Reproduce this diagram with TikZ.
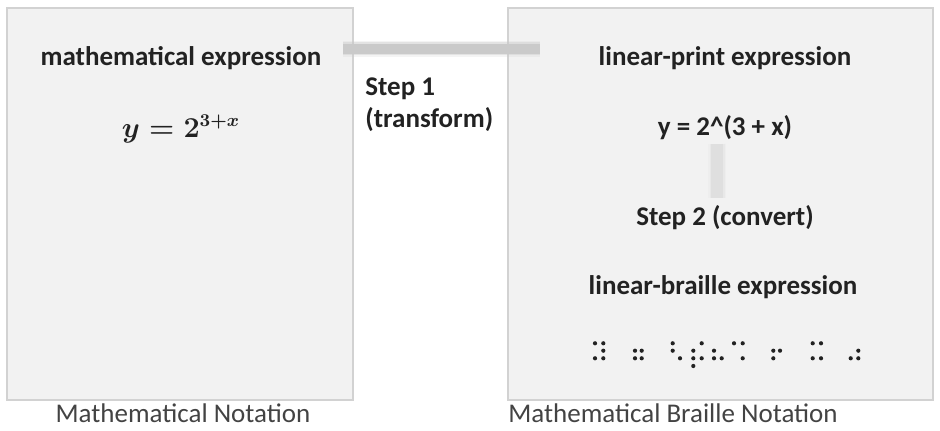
\documentclass[tikz,border=0pt]{standalone}
\usepackage{fontspec}
\setmainfont{Carlito}

\definecolor{panelfill}{HTML}{F2F2F2}
\definecolor{panelline}{HTML}{D2D2D2}
\definecolor{bartone}{HTML}{CACACA}
\definecolor{inktone}{HTML}{222222}

\tikzset{
	panel/.style={draw=panelline, fill=panelfill, line width=0.7pt},
	heading/.style={font=\fontsize{13.5}{16}\selectfont\bfseries, text=inktone, inner sep=1pt},
	formula/.style={font=\fontsize{13.5}{16}\selectfont\mathversion{bold}, text=inktone, inner sep=1pt},
	caption/.style={font=\fontsize{13.5}{16}\selectfont, text=inktone!85, inner sep=1pt},
	brailledot/.style={fill=inktone},
}

\begin{document}
\begin{tikzpicture}[x=0.5pt,y=0.5pt]
			\useasboundingbox (0,0) rectangle (940,431);

			% panels
			\draw [panel] (7,31) rectangle (353,423);
			\draw [panel] (508,31) rectangle (933,423);

			% left panel
			\node[heading] (mathhead) at (181,373) {mathematical expression};
			\node[formula] (mathexpr) at (181,302) {$y = 2^{3+x}$};

			% right panel
			\node[heading] (linhead) at (725,373) {linear-print expression};
			\node[heading] (linexpr) at (725,303) {y = 2\textasciicircum(3 + x)};
			\node[heading] (step2) at (725,213) {Step 2 (convert)};
			\node[heading] (brlhead) at (723,144) {linear-braille expression};

			% step 1 label between the panels
			\node[heading, align=left, anchor=west] (step1) at (363,326) {Step 1\\(transform)};

			% step bars, soft edged
			\coordinate (s1from) at (343,382);
			\coordinate (s1to) at (540,382);
			\coordinate (s2from) at (717,287);
			\coordinate (s2to) at (717,233);
			\foreach \w/\o in {8/0.2, 6.5/0.4, 5/1}
				\draw [line width=\w pt, bartone, opacity=\o] (s1from) -- (s1to);
			\foreach \w/\o in {9/0.2, 7.5/0.4, 6/1}
				\draw [line width=\w pt, bartone!60, opacity=\o] (s2from) -- (s2to);

			% braille dots
			\foreach \px/\py in {595/87.7, 603.3/87.7, 603.3/80.3, 595/72.7, 603.3/72.7,
					635/80.3, 641.7/80.3, 635/72.7, 641.7/72.7,
					672.7/87.7, 672.7/80.3, 680/72.7,
					701.7/87.7, 693.3/80.3, 693.3/72.7, 701.7/72.7, 693.3/65,
					714/80.3, 714/72.7, 721.7/72.7,
					734/87.7, 742.7/87.7, 742.7/72.7,
					773.3/80.3, 780/80.3, 773.3/72.7,
					812.7/87.7, 821/87.7, 812.7/72.7, 821/72.7,
					858.3/80.3, 850.7/72.7, 858.3/72.7}
				\fill [brailledot] (\px,\py) circle [radius=2.1];

			% captions
			\node[caption] (leftcap) at (183,18) {Mathematical Notation};
			\node[caption] (rightcap) at (673,18) {Mathematical Braille Notation};
\end{tikzpicture}
\end{document}
